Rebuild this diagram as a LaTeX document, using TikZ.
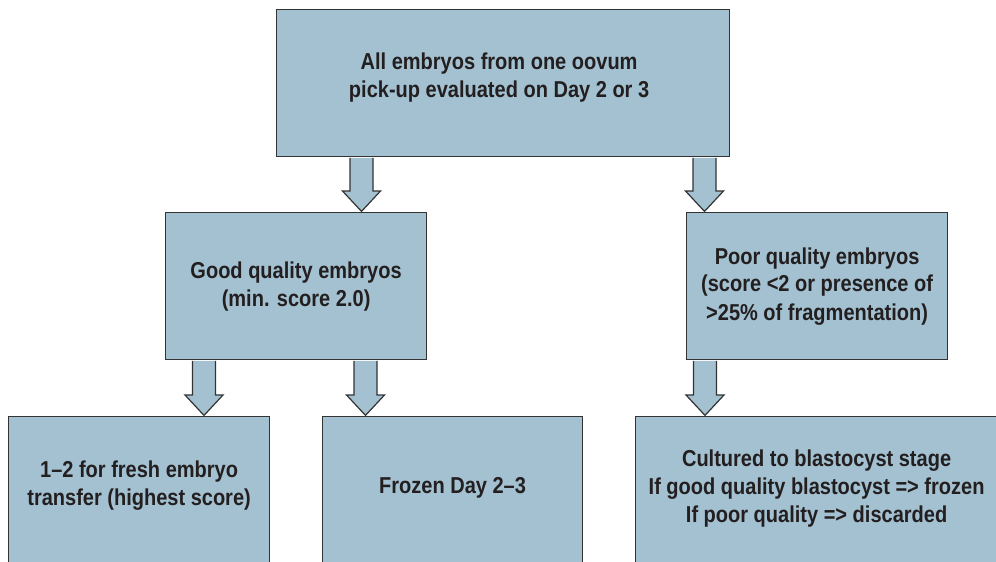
\documentclass[tikz,border=0pt]{standalone}
\usepackage{fontspec}
\newfontfamily\flowfont{Liberation Sans}[FakeStretch=0.87]
\usetikzlibrary{calc}
\definecolor{boxblue}{HTML}{A3C1D1}
\definecolor{boxline}{HTML}{333333}
\definecolor{inkgray}{HTML}{231F20}
\tikzset{
  box/.style    = {draw=boxline, fill=boxblue, line width=1.2pt, rectangle,
                   anchor=north west, inner sep=0pt},
  txt/.style    = {align=center, text=inkgray,
                   font=\flowfont\bfseries\fontsize{23}{28}\selectfont},
  fatarr/.style = {draw=boxline, fill=boxblue, line width=1.2pt, line join=miter},
}
% block arrow at x=#1 from the bottom of #2 to the top of #3
\newcommand{\blockarrow}[3]{%
  \filldraw[fatarr] let \p1=(#2.south), \p2=(#3.north) in
    (#1-11.5,\y1-0.6pt) -- (#1-11.5,\y2+21pt) -- (#1-19,\y2+21pt)
    -- (#1,\y2+0.6pt) -- (#1+19,\y2+21pt) -- (#1+11.5,\y2+21pt)
    -- (#1+11.5,\y1-0.6pt);}

\begin{document}
\begin{tikzpicture}[x=1pt, y=-1pt]
  \path[use as bounding box, clip] (0,0) rectangle (996,562);

  \node[box, minimum width=453pt, minimum height=147pt] (top) at (276,9) {};
  \node[txt] (toptext) at ($(top.center)+(-4,-6)$)
    {All embryos from one oovum\\pick-up evaluated on Day 2 or 3};

  \node[box, txt, minimum width=261pt, minimum height=147pt] (good) at (165,212)
    {Good quality embryos\\(min. score 2.0)};
  \node[box, txt, minimum width=261pt, minimum height=147pt] (poor) at (686,212)
    {Poor quality embryos\\(score <2 or presence of\\>25\% of fragmentation)};

  \node[box, minimum width=261pt, minimum height=170pt] (fresh)    at (8,416)   {};
  \node[box, minimum width=260pt, minimum height=170pt] (frozen)   at (322,416) {};
  \node[box, minimum width=362pt, minimum height=170pt] (cultured) at (635,416) {};
  \node[txt] (freshtext)    at ($(fresh.north)+(0,70)$)
    {1–2 for fresh embryo\\transfer (highest score)};
  \node[txt] (frozentext)   at ($(frozen.north)+(0,72)$) {Frozen Day 2–3};
  \node[txt] (culturedtext) at ($(cultured.north)+(0,73)$)
    {Cultured to blastocyst stage\\If good quality blastocyst => frozen\\If poor quality => discarded};

  \blockarrow{361.5}{top}{good}
  \blockarrow{704.5}{top}{poor}
  \blockarrow{204}{good}{fresh}
  \blockarrow{365.5}{good}{frozen}
  \blockarrow{705}{poor}{cultured}
\end{tikzpicture}
\end{document}
